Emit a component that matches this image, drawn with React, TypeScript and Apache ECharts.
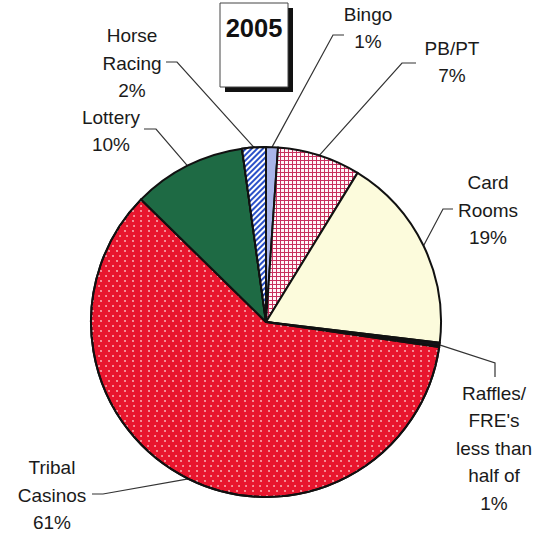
import React, { useEffect, useRef } from 'react';
import * as echarts from 'echarts';

// ---- data ----
const categories = ['Bingo', 'PB/PT', 'Card Rooms', "Raffles/FRE's", 'Tribal Casinos', 'Lottery', 'Horse Racing'];
const shares = [1.1, 7.7, 18.2, 0.4, 60.3, 10.5, 2.2];
const labelTexts = [
  'Bingo\n1%',
  'PB/PT\n7%',
  'Card\nRooms\n19%',
  "Raffles/\nFRE's\nless than\nhalf of\n1%",
  'Tribal\nCasinos\n61%',
  'Lottery\n10%',
  'Horse\nRacing\n2%',
];
const titleText = '2005';

// ---- layout (label anchors and leader-line bends) ----
const placements: { x: number; y: number; bend: number[]; end: number[] }[] = [
  { x: 368, y: 28, bend: [333, 35], end: [344, 35] },
  { x: 452, y: 62, bend: [402, 63], end: [416, 63] },
  { x: 488, y: 210, bend: [443, 209], end: [453, 209] },
  { x: 494, y: 448, bend: [495, 363], end: [495, 377] },
  { x: 52, y: 495, bend: [103, 494], end: [92, 494] },
  { x: 111, y: 131, bend: [156, 129], end: [144, 129] },
  { x: 132, y: 63, bend: [177, 62], end: [166, 62] },
];

const colors = ['#a9b5e9', '#c8305e', '#fcfbdc', '#121218', '#e8162e', '#1e6a44', '#2a50c8'];

const decals: any[] = [
  null,
  null,
  null,
  null,
  {
    symbol: 'circle',
    symbolSize: 0.8,
    color: 'rgba(255,225,225,0.9)',
    dashArrayX: [[2, 5], [0, 3.5, 2, 1.5]],
    dashArrayY: [2, 2.5],
  },
  null,
  { symbol: 'rect', symbolSize: 1, color: '#ffffff', dashArrayX: [1, 0], dashArrayY: [1.6, 1.6], rotation: -Math.PI / 4 },
];

function makeGridCanvas(line: string) {
  const c = document.createElement('canvas');
  c.width = 4;
  c.height = 4;
  const g = c.getContext('2d');
  if (g) {
    g.fillStyle = '#fff6f8';
    g.fillRect(0, 0, 4, 4);
    g.fillStyle = line;
    g.fillRect(0, 0, 4, 1);
    g.fillRect(0, 0, 1, 4);
  }
  return c;
}

export default function App() {
  const ref = useRef<HTMLDivElement>(null);
  useEffect(() => {
    document.body.style.margin = '0';
    if (!ref.current) return;
    const chart = echarts.init(ref.current, null, { renderer: 'svg' });
    const grid = makeGridCanvas(colors[1]);
    const data = categories.map((name, i) => {
      let color: any = colors[i];
      if (i === 1) color = { image: grid, repeat: 'repeat' };
      return {
        name,
        value: shares[i],
        itemStyle: decals[i] ? { color, decal: decals[i] } : { color },
      };
    });
    chart.setOption({
      animation: false,
      backgroundColor: '#ffffff',
      graphic: [
        { type: 'rect', shape: { x: 225, y: 8, width: 68, height: 84 }, style: { fill: '#111111' } },
        { type: 'rect', shape: { x: 220, y: 3, width: 68, height: 84 }, style: { fill: '#ffffff', stroke: '#444444', lineWidth: 1 } },
        {
          type: 'text',
          x: 254,
          y: 28,
          style: {
            text: titleText,
            fontSize: 25.5,
            fontWeight: 'bold',
            fontFamily: '"Liberation Sans", Arial, sans-serif',
            fill: '#111111',
            align: 'center',
            verticalAlign: 'middle',
            textAlign: 'center',
            textVerticalAlign: 'middle',
          },
        },
      ],
      series: [
        {
          type: 'pie',
          center: [266, 322],
          radius: 175,
          startAngle: 90,
          clockwise: true,
          avoidLabelOverlap: false,
          itemStyle: { borderColor: '#111111', borderWidth: 2 },
          label: {
            show: true,
            formatter: (p: any) => labelTexts[p.dataIndex],
            fontSize: 19,
            lineHeight: 27.5,
            fontFamily: '"Liberation Sans", Arial, sans-serif',
            color: '#1a1a1a',
            align: 'center',
          },
          labelLine: { show: true, lineStyle: { color: '#333333', width: 1.2 } },
          labelLayout: (params: any) => {
            const p = placements[params.dataIndex];
            const start = params.labelLinePoints && params.labelLinePoints[0];
            const out: any = { x: p.x, y: p.y, align: 'center', verticalAlign: 'middle' };
            if (start) out.labelLinePoints = [start, p.bend, p.end];
            return out;
          },
          emphasis: { disabled: true },
          data,
        },
      ],
    });
    return () => chart.dispose();
  }, []);
  return <div ref={ref} style={{ width: 535, height: 547 }} />;
}
